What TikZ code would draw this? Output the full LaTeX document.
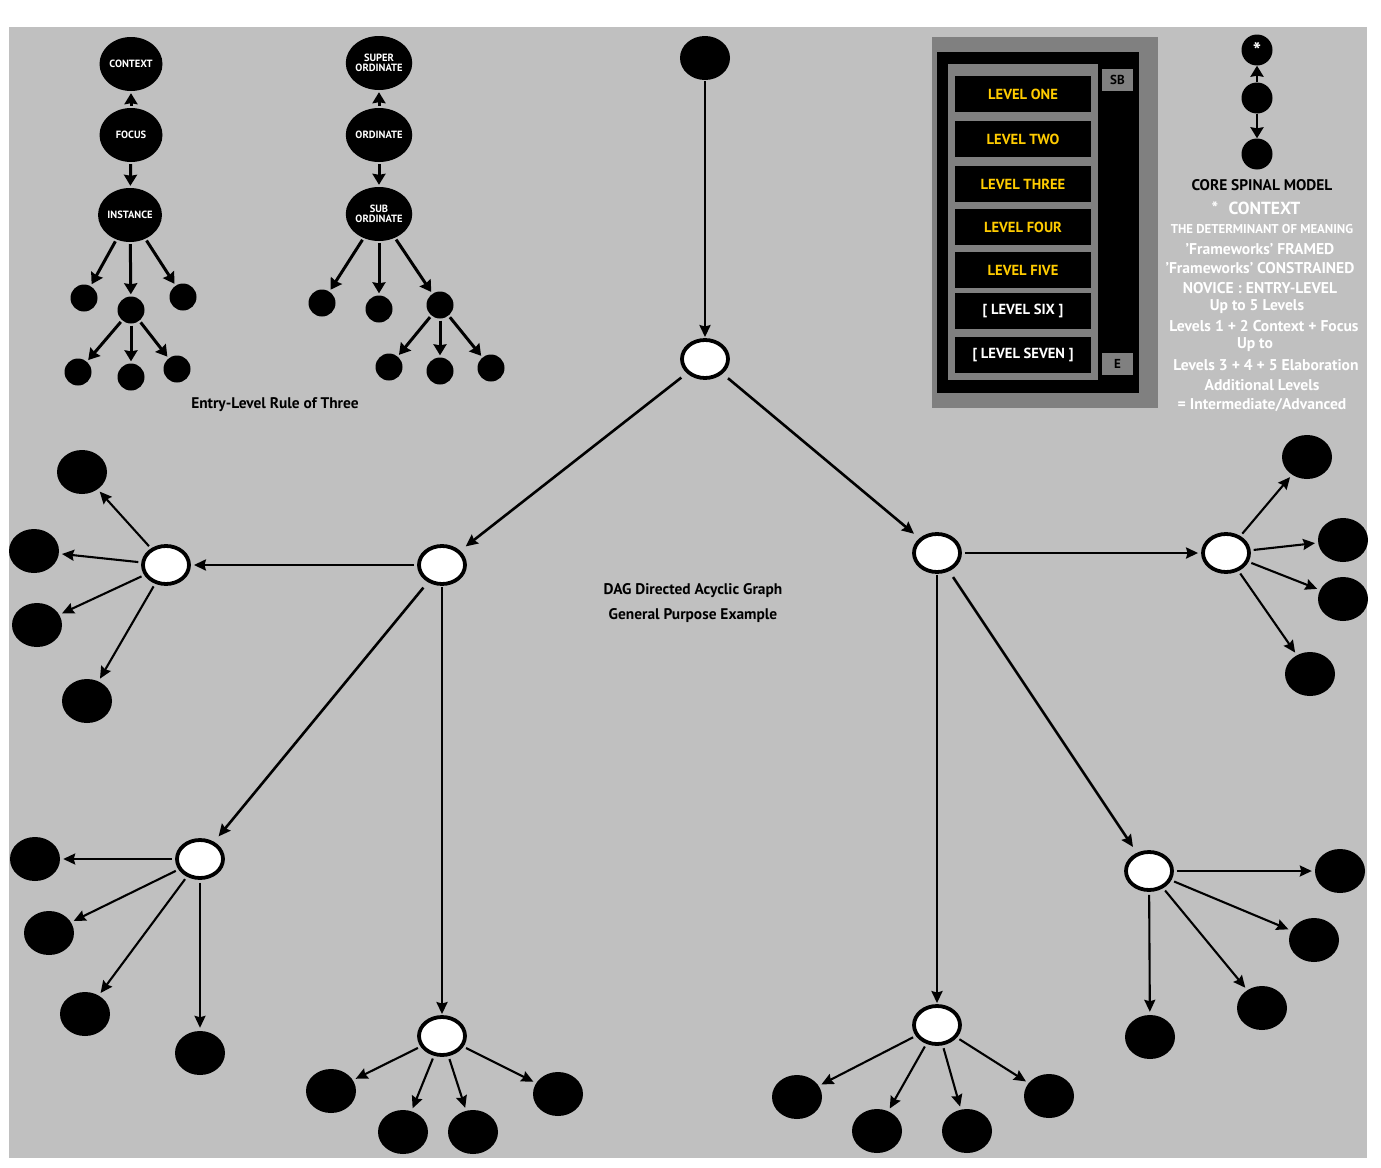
\documentclass[tikz,border=0pt]{standalone}
\usepackage{fontspec}
\setmainfont{PT Sans}
\usetikzlibrary{shapes.geometric,arrows.meta}
\definecolor{bgray}{HTML}{C0C0C0}
\definecolor{pgray}{HTML}{808080}
\definecolor{lvlyel}{HTML}{FFCC00}
\newcommand\myfs[1]{\fontsize{#1}{#1}\selectfont\bfseries}
\begin{document}
\begin{tikzpicture}[x=1pt,y=-1pt,
  blk/.style={ellipse, fill=black, inner sep=0pt, minimum width=50pt, minimum height=44pt},
  wht/.style={ellipse, fill=white, draw=black, line width=3.8pt, inner sep=0pt, minimum width=46pt, minimum height=38pt},
  sml/.style={circle, fill=black, inner sep=0pt, minimum size=27pt},
  lab/.style={ellipse, fill=black, inner sep=0pt, minimum width=63pt, minimum height=54pt, text=white, font=\myfs{10.5}, align=center},
  spn/.style={circle, fill=black, inner sep=0pt, minimum size=31pt, text=white, font=\myfs{22}},
  arr/.style={-{Stealth[length=12pt,width=11pt,inset=1.5pt]}, line width=2.1pt, shorten <=3pt, shorten >=3pt},
  marr/.style={arr, line width=2.6pt},
  darr/.style={marr, shorten <=7pt, shorten >=7pt},
  tarr/.style={-{Stealth[length=11pt,width=13pt,inset=1pt]}, line width=3pt, shorten <=2pt, shorten >=2pt},
  lvl/.style={fill=black, minimum width=136pt, minimum height=36pt, inner sep=0pt, text=lvlyel, font=\myfs{14.6}},
  tag/.style={fill=pgray, minimum width=31pt, minimum height=22pt, inner sep=0pt, text=black, font=\myfs{13}},
  note/.style={text=white, inner sep=0pt, font=\myfs{15.6}},
  ttl/.style={text=black, inner sep=0pt, font=\myfs{15.4}}
]
\useasboundingbox (0,0) rectangle (1381,1167);
\fill[white] (0,0) rectangle (1381,1167);
\fill[bgray] (9,27) rectangle (1367,1158);

% ---------- top-left trees ----------
\node[lab] (ctx) at (131,64) {CONTEXT};
\node[lab] (foc) at (131,135) {FOCUS};
\node[lab] (ins) at (130,215) {INSTANCE};
\node[sml] (s1) at (84,298) {};
\node[sml] (s2) at (131,310) {};
\node[sml] (s3) at (183,297) {};
\node[sml] (s4) at (78,372) {};
\node[sml] (s5) at (131,377) {};
\node[sml] (s6) at (177,369) {};
\draw[tarr] (foc) -- (ctx);
\draw[tarr] (foc) -- (ins);
\draw[tarr] (ins) -- (s1);
\draw[tarr] (ins) -- (s2);
\draw[tarr] (ins) -- (s3);
\draw[tarr] (s2) -- (s4);
\draw[tarr] (s2) -- (s5);
\draw[tarr] (s2) -- (s6);

\node[lab] (sup) at (379,63) {SUPER\\[-1pt]ORDINATE};
\node[lab] (ord) at (379,135) {ORDINATE};
\node[lab] (sub) at (379,214) {SUB\\[-1pt]ORDINATE};
\node[sml] (t1) at (322,303) {};
\node[sml] (t2) at (379,309) {};
\node[sml] (t3) at (440,305) {};
\node[sml] (t4) at (389,367) {};
\node[sml] (t5) at (440,371) {};
\node[sml] (t6) at (491,368) {};
\draw[tarr] (ord) -- (sup);
\draw[tarr] (ord) -- (sub);
\draw[tarr] (sub) -- (t1);
\draw[tarr] (sub) -- (t2);
\draw[tarr] (sub) -- (t3);
\draw[tarr] (t3) -- (t4);
\draw[tarr] (t3) -- (t5);
\draw[tarr] (t3) -- (t6);

\node[ttl] (rule) at (275,405) {Entry-Level Rule of Three};

% ---------- level panel ----------
\fill[pgray] (932,37) rectangle (1158,408);
\fill[black] (937,52) rectangle (1139,393);
\fill[pgray] (948,64) rectangle (1098,380);
\node[lvl] (lv1) at (1023,94) {LEVEL ONE};
\node[lvl] (lv2) at (1023,139) {LEVEL TWO};
\node[lvl] (lv3) at (1023,184) {LEVEL THREE};
\node[lvl] (lv4) at (1023,227) {LEVEL FOUR};
\node[lvl] (lv5) at (1023,270) {LEVEL FIVE};
\node[lvl, text=white] (lv6) at (1023,311) {[ LEVEL SIX ]};
\node[lvl, text=white] (lv7) at (1023,355) {[ LEVEL SEVEN ]};
\node[tag] (sb) at (1117.5,80) {SB};
\node[tag] (e) at (1117.5,364) {E};

% ---------- core spinal model ----------
\node[spn] (c1) at (1257,50) {\raisebox{-3pt}{*}};
\node[spn] (c2) at (1257,98) {};
\node[spn] (c3) at (1257,154) {};
\draw[tarr, line width=2.5pt, shorten <=0pt, shorten >=0pt] (c2) -- (c1);
\draw[tarr, line width=2.5pt, shorten <=0pt, shorten >=0pt] (c2) -- (c3);
\node[ttl] (core) at (1262,185) {CORE SPINAL MODEL};
\node[note, font=\myfs{17.5}] (n1) at (1256,208) {*\,\, CONTEXT};
\node[note, font=\myfs{12.8}] (n2) at (1262,229) {THE DETERMINANT OF MEANING};
\node[note] (n3) at (1260,249) {'Frameworks' FRAMED};
\node[note] (n4) at (1260,268) {'Frameworks' CONSTRAINED};
\node[note] (n5) at (1260,288) {NOVICE : ENTRY-LEVEL};
\node[note] (n6) at (1257,307) {Up to 5 Levels};
\node[note] (n7) at (1264,326) {Levels 1 + 2 Context + Focus};
\node[note] (n8) at (1255,345) {Up to};
\node[note] (n9) at (1266,365) {Levels 3 + 4 + 5 Elaboration};
\node[note] (n10) at (1262,385) {Additional Levels};
\node[note] (n11) at (1262,405) {= Intermediate/Advanced};

% ---------- centre caption ----------
\node[ttl] (cap1) at (693,591) {DAG Directed Acyclic Graph};
\node[ttl] (cap2) at (693,616) {General Purpose Example};

% ---------- main DAG ----------
\node[blk] (root) at (705,58) {};
\node[wht] (a) at (705,359) {};
\node[wht] (l1) at (442,565) {};
\node[wht] (r1) at (937,553) {};
\node[wht] (ll) at (166,565) {};
\node[wht] (lb) at (200,859) {};
\node[wht] (ld) at (442,1036) {};
\node[wht] (rd) at (937,1025) {};
\node[wht] (rr) at (1226,553) {};
\node[wht] (rg) at (1149,871) {};

\node[blk] (ll1) at (82,472) {};
\node[blk] (ll2) at (34,551) {};
\node[blk] (ll3) at (37,625) {};
\node[blk] (ll4) at (87,701) {};
\node[blk] (lb1) at (35,859) {};
\node[blk] (lb2) at (49,933) {};
\node[blk] (lb3) at (85,1014) {};
\node[blk] (lb4) at (200,1053) {};
\node[blk] (ld1) at (331,1091) {};
\node[blk] (ld2) at (403,1132) {};
\node[blk] (ld3) at (473,1132) {};
\node[blk] (ld4) at (558,1094) {};
\node[blk] (rd1) at (797,1097) {};
\node[blk] (rd2) at (877,1131) {};
\node[blk] (rd3) at (967,1131) {};
\node[blk] (rd4) at (1049,1096) {};
\node[blk] (rr1) at (1307,457) {};
\node[blk] (rr2) at (1343,540) {};
\node[blk] (rr3) at (1343,599) {};
\node[blk] (rr4) at (1310,674) {};
\node[blk] (rg1) at (1340,871) {};
\node[blk] (rg2) at (1314,940) {};
\node[blk] (rg3) at (1262,1008) {};
\node[blk] (rg4) at (1150,1037) {};

\draw[marr, shorten <=1pt, shorten >=1pt] (root) -- (a);
\draw[darr] (a) -- (l1);
\draw[darr] (a) -- (r1);
\draw[marr] (l1) -- (ll);
\draw[darr] (l1) -- (lb);
\draw[marr, shorten <=1pt, shorten >=1pt] (l1) -- (ld);
\draw[marr] (r1) -- (rr);
\draw[marr, shorten <=1pt, shorten >=1pt] (r1) -- (rd);
\draw[darr] (r1) -- (rg);

\foreach \p/\c in {ll/ll1,ll/ll2,ll/ll3,ll/ll4,lb/lb1,lb/lb2,lb/lb3,lb/lb4,
                   ld/ld1,ld/ld2,ld/ld3,ld/ld4,rd/rd1,rd/rd2,rd/rd3,rd/rd4,
                   rr/rr1,rr/rr2,rr/rr3,rr/rr4,rg/rg1,rg/rg2,rg/rg3,rg/rg4}
  \draw[arr] (\p) -- (\c);
\end{tikzpicture}
\end{document}
